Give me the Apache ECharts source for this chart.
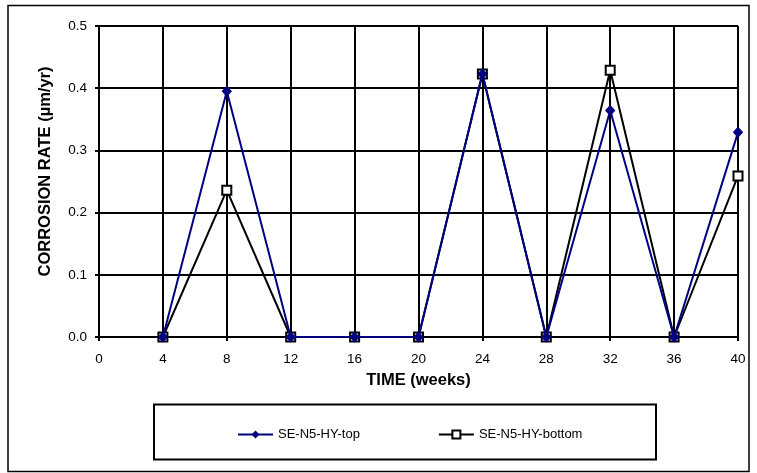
<!DOCTYPE html>
<html><head><meta charset="utf-8">
<script src="https://cdn.jsdelivr.net/npm/echarts@6/dist/echarts.min.js"></script>
<style>html,body{margin:0;padding:0;background:#fff}#c{width:757px;height:473px}</style>
</head><body><div id="c"></div>
<script>
const weeks = [4, 8, 12, 16, 20, 24, 28, 32, 36, 40];
const topValues = [0, 0.395, 0, 0, 0, 0.423, 0, 0.364, 0, 0.329];
const bottomValues = [0, 0.236, 0, 0, 0, 0.423, 0, 0.429, 0, 0.259];
const seriesNames = ['SE-N5-HY-top', 'SE-N5-HY-bottom'];
const xTitle = 'TIME (weeks)';
const yTitle = 'CORROSION RATE (\u00b5m/yr)';

const chart = echarts.init(document.getElementById('c'), null, {renderer: 'canvas'});
const font = 'Arial, "Liberation Sans", sans-serif';
chart.setOption({
  animation: false,
  backgroundColor: '#fff',
  grid: {left: 99, right: 19, top: 26, bottom: 136, containLabel: false},
  xAxis: {
    type: 'value', min: 0, max: 40, interval: 4,
    name: xTitle, nameLocation: 'middle', nameGap: 35,
    nameTextStyle: {fontFamily: font, fontSize: 16.5, fontWeight: 'bold', color: '#000'},
    axisLine: {show: true, lineStyle: {color: '#000', width: 2}},
    axisTick: {show: true, length: 4, lineStyle: {color: '#000', width: 2}},
    axisLabel: {fontFamily: font, fontSize: 13.5, color: '#000', margin: 15},
    splitLine: {show: true, lineStyle: {color: '#000', width: 2}}
  },
  yAxis: {
    type: 'value', min: 0, max: 0.5, interval: 0.1,
    name: yTitle, nameLocation: 'middle', nameGap: 45, nameRotate: 90,
    nameTextStyle: {fontFamily: font, fontSize: 16.5, fontWeight: 'bold', color: '#000', padding: [0, 0, 0, 20]},
    axisLine: {show: true, lineStyle: {color: '#000', width: 2}},
    axisTick: {show: true, length: 4, lineStyle: {color: '#000', width: 2}},
    axisLabel: {fontFamily: font, fontSize: 13.5, color: '#000', margin: 12, formatter: v => v.toFixed(1)},
    splitLine: {show: true, lineStyle: {color: '#000', width: 2}}
  },
  legend: {
    left: 232, top: 423, itemWidth: 35, itemHeight: 10, itemGap: 78,
    textStyle: {fontFamily: font, fontSize: 13, color: '#000'},
    data: seriesNames
  },
  graphic: [
    {type: 'rect', shape: {x: 8, y: 5.5, width: 741, height: 466}, style: {fill: null, stroke: '#000', lineWidth: 1.5}, silent: true},
    {type: 'rect', shape: {x: 154, y: 404.5, width: 502, height: 55}, style: {fill: null, stroke: '#000', lineWidth: 2}, silent: true}
  ],
  series: [
    {
      name: seriesNames[0], type: 'line',
      data: weeks.map((w, i) => [w, topValues[i]]),
      symbol: 'diamond', symbolSize: [9, 10], showAllSymbol: true,
      lineStyle: {color: '#000080', width: 2},
      itemStyle: {color: '#000080', borderColor: '#000080'},
      z: 3
    },
    {
      name: seriesNames[1], type: 'line',
      data: weeks.map((w, i) => [w, bottomValues[i]]),
      symbol: 'rect', symbolSize: 9, showAllSymbol: true,
      lineStyle: {color: '#000', width: 2},
      itemStyle: {color: '#fff', borderColor: '#000', borderWidth: 2},
      z: 2
    }
  ]
});
</script></body></html>
